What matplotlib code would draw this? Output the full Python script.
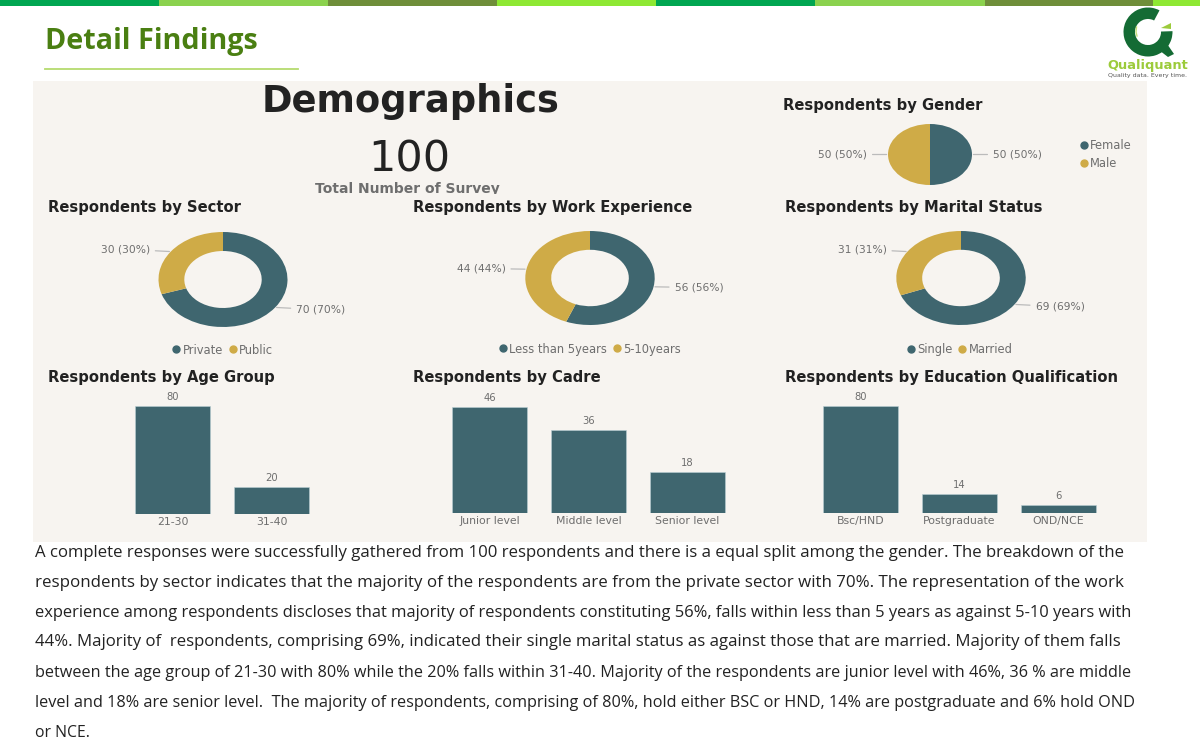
import matplotlib
matplotlib.use("Agg")
import matplotlib.pyplot as plt
from matplotlib.lines import Line2D
from matplotlib.patches import Rectangle, Wedge, Polygon
import numpy as np

W, H = 1200, 750
TEAL, GOLD = "#3F666F", "#CFAB47"
PANEL = "#F7F4F0"
GREY = "#6E6E6E"
DARK = "#222222"

strip_edges = [0, 159, 328, 497, 656, 815, 985, 1153, 1200]
strip_colors = ["#00A651", "#8BD24E", "#6F8E3A", "#8EE833", "#00A651", "#8BD24E", "#6F8E3A", "#8EE833"]

gender_labels = ["Female", "Male"]
gender_values = [50, 50]
sector_labels = ["Private", "Public"]
sector_values = [70, 30]
work_labels = ["Less than 5years", "5-10years"]
work_values = [56, 44]
marital_labels = ["Single", "Married"]
marital_values = [69, 31]

age_labels = ["21-30", "31-40"]
age_values = [80, 20]
cadre_labels = ["Junior level", "Middle level", "Senior level"]
cadre_values = [46, 36, 18]
edu_labels = ["Bsc/HND", "Postgraduate", "OND/NCE"]
edu_values = [80, 14, 6]

section_titles = [
    ("Respondents by Gender", 783, 105.5),
    ("Respondents by Sector", 48, 207.5),
    ("Respondents by Work Experience", 413, 207.5),
    ("Respondents by Marital Status", 785, 207.5),
    ("Respondents by Age Group", 48, 377.5),
    ("Respondents by Cadre", 413, 377.5),
    ("Respondents by Education Qualification", 785, 377.5),
]

body_lines = [
    "A complete responses were successfully gathered from 100 respondents and there is a equal split among the gender. The breakdown of the",
    "respondents by sector indicates that the majority of the respondents are from the private sector with 70%. The representation of the work",
    "experience among respondents discloses that majority of respondents constituting 56%, falls within less than 5 years as against 5-10 years with",
    "44%. Majority of  respondents, comprising 69%, indicated their single marital status as against those that are married. Majority of them falls",
    "between the age group of 21-30 with 80% while the 20% falls within 31-40. Majority of the respondents are junior level with 46%, 36 % are middle",
    "level and 18% are senior level.  The majority of respondents, comprising of 80%, hold either BSC or HND, 14% are postgraduate and 6% hold OND",
    "or NCE.",
]
body_y = [553, 583, 613, 642, 673, 703, 733]
body_right = [1128, 1129, 1132, 1131, 1131, 1135, None]

fig = plt.figure(figsize=(W / 100, H / 100), dpi=100, facecolor="white")
bg = fig.add_axes([0, 0, 1, 1])
bg.set_xlim(0, W)
bg.set_ylim(H, 0)
bg.axis("off")


def axes_px(x0, y0, x1, y1):
    ax = fig.add_axes([x0 / W, 1 - y1 / H, (x1 - x0) / W, (y1 - y0) / H])
    ax.patch.set_alpha(0)
    return ax


# page furniture
for i, c in enumerate(strip_colors):
    bg.add_patch(Rectangle((strip_edges[i], 0), strip_edges[i + 1] - strip_edges[i], 6, color=c, lw=0))
bg.add_patch(Rectangle((33, 81), 1114, 461, color=PANEL, lw=0))
bg.text(45, 42, "Detail Findings", fontsize=20.7, fontweight="bold", family="Open Sans", color="#4A7F12", va="center")
bg.plot([45, 298], [69, 69], color="#B5DB6E", lw=1.3)

# logo
logo = axes_px(1118, 6, 1178, 62)
logo.set_xlim(-30, 30)
logo.set_ylim(-30, 26)
logo.axis("off")
LG = "#146B34"
logo.add_patch(Wedge((0, 0), 24.5, 62, 362, width=11.5, color=LG, lw=0))
logo.add_patch(Polygon([[7, -15], [15, -6], [26, -22], [20, -25]], closed=True, color=LG, lw=0))
logo.add_patch(Polygon([[13, 4], [23, 9], [23, 3]], closed=True, color="#9CCB3B", lw=0))
logo.plot([-11.5, -12, -11], [5, 0, -4], color="#C6DE7A", lw=1)
bg.text(1148, 65.5, "Qualiquant", fontsize=9.4, fontweight="bold", color="#9CCB3B", ha="center", va="center")
bg.text(1147, 76, "Quality data. Every time.", fontsize=4.5, color="#555555", ha="center", va="center")

# headline
bg.text(411, 102, "Demographics", fontsize=26.6, fontweight="bold", color=DARK, ha="center", va="center")
bg.text(409, 160, "100", fontsize=31, color=DARK, ha="center", va="center")
survey = bg.text(407.5, 189.5, "Total Number of Survey", fontsize=10, fontweight="bold", color=GREY, ha="center", va="center")
survey.set_clip_path(Rectangle((300, 170), 220, 23.5, transform=bg.transData))
survey.set_clip_on(True)
for t, x, y in section_titles:
    bg.text(x, y, t, fontsize=10.6, fontweight="bold", color=DARK, va="center")


def ring(values, labels, cx, cy, rx, ry, hole=None, legend_at=None, vertical=False):
    ax = axes_px(cx - rx, cy - ry, cx + rx, cy + ry)
    wp = dict(width=1 - hole) if hole else None
    ax.pie(values, colors=[TEAL, GOLD], startangle=90, counterclock=False, radius=1, wedgeprops=wp)
    ax.set_aspect("auto")
    ax.set_xlim(-1, 1)
    ax.set_ylim(-1, 1)
    total = sum(values)
    start = 0
    for v in values:
        theta = 2 * np.pi * (start + v / 2) / total
        start += v
        sx, cy_ = np.sin(theta), np.cos(theta)
        side = 1 if sx >= 0 else -1
        ax.annotate(f"{v} ({round(100 * v / total)}%)", xy=(sx, cy_), xycoords="data",
                    xytext=(side * 21, 4 * cy_), textcoords="offset pixels",
                    ha="left" if side > 0 else "right", va="center", fontsize=7.7, color=GREY,
                    arrowprops=dict(arrowstyle="-", color="#BBBBBB", lw=0.9, shrinkA=2, shrinkB=1),
                    annotation_clip=False)
    handles = [Line2D([], [], ls="", marker="o", ms=5, color=c) for c in (TEAL, GOLD)]
    ax.legend(handles, labels, loc="center", bbox_to_anchor=legend_at,
              bbox_transform=bg.transData, frameon=False, ncol=1 if vertical else 2,
              fontsize=8.3, labelcolor=GREY, handlelength=0.9, handletextpad=0.1, columnspacing=0.4,
              labelspacing=0.4, borderpad=0)
    return ax


ring(gender_values, gender_labels, 930, 154.5, 42, 30.5, legend_at=(1105, 154.5), vertical=True)
ring(sector_values, sector_labels, 223, 279.5, 64.5, 47.5, hole=0.6, legend_at=(222, 350))
ring(work_values, work_labels, 590, 278, 64.7, 47, hole=0.6, legend_at=(589, 349))
ring(marital_values, marital_labels, 961, 278, 64.7, 47, hole=0.6, legend_at=(959, 349.5))


def bars(values, labels, x_first, top, bottom):
    n = len(values)
    ax = axes_px(x_first - 12, top, x_first - 12 + 99 * n, bottom)
    ax.bar(range(n), values, width=75 / 99, color=TEAL, edgecolor="#B9CFD3", lw=0.4)
    ax.set_xlim(-0.5, n - 0.5)
    ax.set_ylim(0, max(values))
    ax.set_xticks(range(n), labels, fontsize=7.8, color=GREY)
    ax.tick_params(axis="x", length=0, pad=2.5)
    ax.set_yticks([])
    for s in ax.spines.values():
        s.set_visible(False)
    for i, v in enumerate(values):
        ax.annotate(str(v), (i, v), xytext=(0, 9), textcoords="offset pixels", ha="center",
                    va="center", fontsize=7.2, color=GREY, annotation_clip=False)
    return ax


bars(age_values, age_labels, 135, 406, 514)
bars(cadre_values, cadre_labels, 452, 407, 513)
bars(edu_values, edu_labels, 823, 405.5, 513)

# body copy: each line is sized so that it ends where the justified original does
renderer = fig.canvas.get_renderer()
base = 11.3
for line, y, right in zip(body_lines, body_y, body_right):
    t = bg.text(35, y, line, fontsize=base, family="Open Sans", color="#222222", va="center")
    if right is not None:
        # text width steps with hinting, so refine the size a few times
        for _ in range(4):
            width = t.get_window_extent(renderer).width
            t.set_fontsize(t.get_fontsize() * (right - 35) / width)

fig.savefig("out.png", dpi=100, facecolor="white")
